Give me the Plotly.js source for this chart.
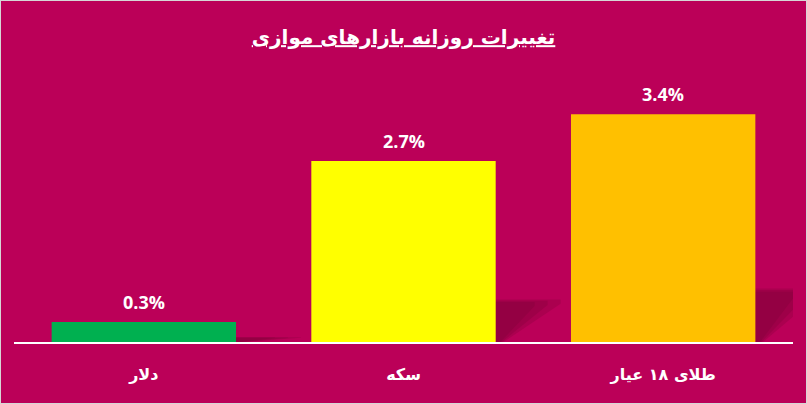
<!DOCTYPE html>
<html>
<head>
<meta charset="utf-8">
<script src="https://cdn.plot.ly/plotly-3.0.1.min.js"></script>
<style>
  body { margin: 0; background: #fff; }
  #myGraph { width: 805px; height: 402px; border: 1px solid #d6d6d6; }
</style>
</head>
<body>
<div id="myGraph"></div>
<script>
const categories = ["دلار", "سکه", "طلای ۱۸ عیار"];
const changes = [0.3, 2.7, 3.4];
const valueLabels = ["0.3%", "2.7%", "3.4%"];
const barColors = ["#00B050", "#FFFF00", "#FFC000"];

const bg = "#BB0058";
const idx = categories.map((c, i) => i);
const barWidth = 0.71;

const bars = {
  x: idx,
  y: changes,
  type: "bar",
  width: barWidth,
  marker: { color: barColors, line: { width: 0 } },
  hoverinfo: "skip"
};

// soft drop shadow to the right of each bar, stacked to fake a gradient
const shadows = [];
changes.forEach((v, i) => {
  const xr = i + barWidth / 2;
  const h = v * 0.235;
  [1, 0.8, 0.6].forEach(f => {
    const w = 0.25 * f;
    const top = h * (1 - 0.06 * (1 - f) / 0.4);
    shadows.push({
      type: "path",
      xref: "x", yref: "y",
      layer: "below",
      path: "M" + xr + ",0 L" + xr + "," + top + " L" + (xr + w) + "," + top +
            " L" + (xr + w) + "," + (top * 0.9) + " L" + (xr + 0.03 * f) + ",0 Z",
      fillcolor: "rgba(115,0,50,0.22)",
      line: { width: 0 }
    });
  });
});

const labels = changes.map((v, i) => ({
  x: i, y: v, text: "<b>" + valueLabels[i] + "</b>",
  showarrow: false, yanchor: "bottom", yshift: 6,
  font: { family: "Open Sans, DejaVu Sans", size: 18, color: "#ffffff" }
}));

const layout = {
  width: 805, height: 402,
  paper_bgcolor: bg, plot_bgcolor: bg,
  margin: { l: 13, r: 13, t: 79, b: 61 },
  showlegend: false,
  title: {
    text: "<b><u>تغییرات روزانه بازارهای موازی</u></b>",
    x: 0.5, xanchor: "center", y: 0.91, yanchor: "middle",
    font: { family: "DejaVu Sans", size: 20, color: "#ffffff", weight: "bold" }
  },
  xaxis: {
    range: [-0.5, 2.5],
    tickvals: idx, ticktext: categories.map(c => "<b>" + c + "</b>"),
    ticks: "outside", ticklen: 17, tickcolor: "rgba(0,0,0,0)",
    tickfont: { family: "DejaVu Sans", size: 16, color: "#ffffff" },
    showline: true, linecolor: "#ffffff", linewidth: 1.5,
    showgrid: false, zeroline: false, fixedrange: true
  },
  yaxis: {
    range: [0, 3.91],
    visible: false, showgrid: false, zeroline: false, fixedrange: true
  },
  shapes: shadows,
  annotations: labels
};

Plotly.newPlot("myGraph", [bars], layout, { displayModeBar: false, staticPlot: true });
</script>
</body>
</html>
